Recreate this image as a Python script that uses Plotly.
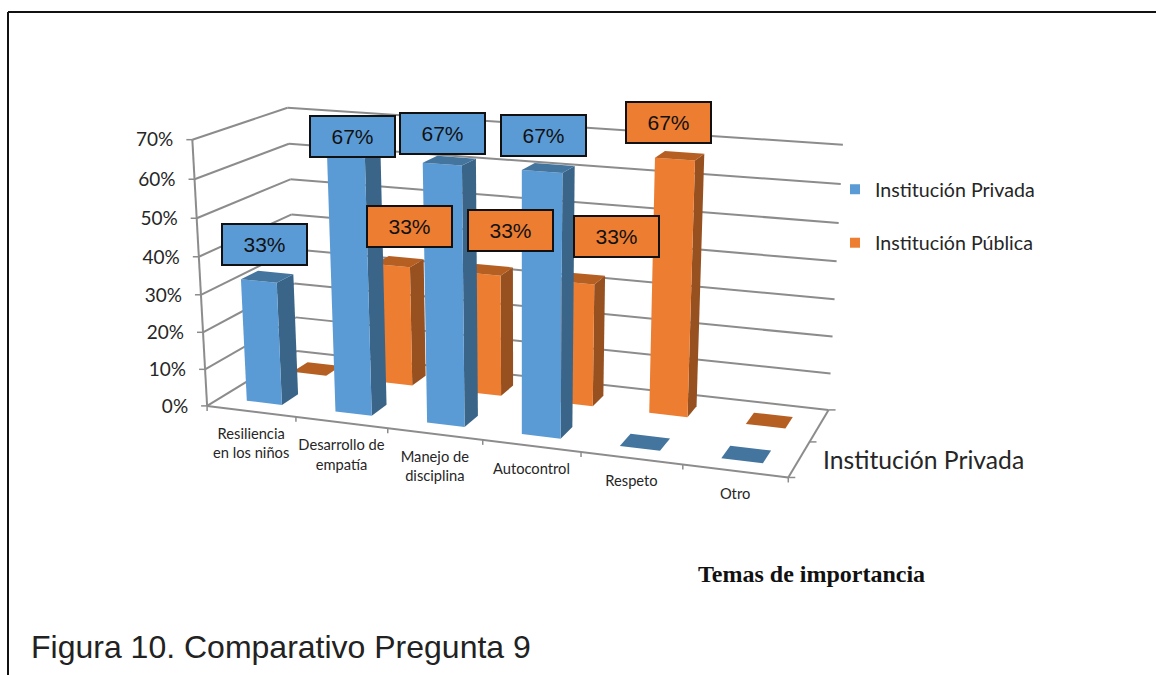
import numpy as np
import plotly.graph_objects as go

# ---------- data ----------
categories = ["Resiliencia<br>en los niños", "Desarrollo de<br>empatía", "Manejo de<br>disciplina",
              "Autocontrol", "Respeto", "Otro"]
privada = [33, 67, 67, 67, 0, 0]
publica = [0, 33, 33, 33, 67, 0]
y_ticks = [0, 10, 20, 30, 40, 50, 60, 70]
series_names = ["Institución Privada", "Institución Pública"]
depth_label = "Institución Privada"
axis_title = "Temas de importancia"
caption = "Figura 10. Comparativo Pregunta 9"

# ---------- view: maps (category pos, depth pos, value) onto the page ----------
view_world = [(0, 0, 0), (6, 0, 0), (6, 1, 0), (0, 1, 0), (0, 0, 70), (6, 0, 70), (6, 1, 70), (0, 1, 70)]
view_page = [(206, 405), (789, 477), (828, 410), (298, 352), (193, 138), (802, 188), (843, 142), (287, 109)]


def fit_view(world, page):
    rows, rhs = [], []
    for (a, b, c), (x, y) in zip(world, page):
        rows.append([a, b, c, 1, 0, 0, 0, 0, -x * a, -x * b, -x * c])
        rows.append([0, 0, 0, 0, a, b, c, 1, -y * a, -y * b, -y * c])
        rhs += [x, y]
    p = np.linalg.lstsq(np.array(rows, float), np.array(rhs, float), rcond=None)[0]
    return np.append(p, 1.0).reshape(3, 4)


P = fit_view(view_world, view_page)


def proj(u, v, z):
    q = P @ np.array([u, v, z, 1.0])
    return q[0] / q[2], q[1] / q[2]


GRID = "#8c8c8c"
BLUE = dict(front="#5B9BD5", side="#3A6589", top="#44759F")
ORANGE = dict(front="#ED7D31", side="#97501F", top="#B65F22")
BAR_U = 0.4
BAR_D = 0.18
V_FRONT = {"priv": 0.14, "pub": 0.65}

fig = go.Figure()


def seg(a, b, width=2, color=GRID):
    pa, pb = proj(*a), proj(*b)
    fig.add_trace(go.Scatter(x=[pa[0], pb[0]], y=[pa[1], pb[1]], mode="lines",
                             line=dict(color=color, width=width), hoverinfo="skip", showlegend=False))


def tick(a, dx, dy):
    pa = proj(*a)
    fig.add_trace(go.Scatter(x=[pa[0], pa[0] + dx], y=[pa[1], pa[1] + dy], mode="lines",
                             line=dict(color=GRID, width=1.5), hoverinfo="skip", showlegend=False))


def face(corners, color, name):
    pts = [proj(*c) for c in corners]
    pts.append(pts[0])
    fig.add_trace(go.Scatter(x=[p[0] for p in pts], y=[p[1] for p in pts], mode="lines", fill="toself",
                             fillcolor=color, line=dict(width=0), name=name, hoverinfo="name", showlegend=False))


def bar(i, value, v0, col, name):
    u0 = i + (1 - BAR_U) / 2
    u1 = u0 + BAR_U
    v1 = v0 + BAR_D
    face([(u1, v0, 0), (u1, v1, 0), (u1, v1, value), (u1, v0, value)], col["side"], name)
    face([(u0, v0, 0), (u1, v0, 0), (u1, v0, value), (u0, v0, value)], col["front"], name)
    face([(u0, v0, value), (u1, v0, value), (u1, v1, value), (u0, v1, value)], col["top"], name)


# walls and floor
for t in y_ticks:
    seg((0, 0, t), (0, 1, t))
    seg((0, 1, t), (6, 1, t))
    tick((0, 0, t), -6, 0)
seg((0, 0, 0), (0, 0, 70))
seg((0, 0, 0), (6, 0, 0))
seg((6, 0, 0), (6, 1, 0))
for i in range(len(categories) + 1):
    tick((i, 0, 0), 0, 5)
for v in (0, 0.5, 1):
    tick((6, v, 0), 7, 0)

# bars: back row first, left to right
for i, val in enumerate(publica):
    bar(i, val, V_FRONT["pub"], ORANGE, series_names[1])
for i, val in enumerate(privada):
    bar(i, val, V_FRONT["priv"], BLUE, series_names[0])

# legend entries
fig.add_trace(go.Scatter(x=[None], y=[None], mode="markers", name=series_names[0], legendgroup="a",
                         marker=dict(symbol="square", size=10, color=BLUE["front"])))
fig.add_trace(go.Scatter(x=[None], y=[None], mode="markers", name=series_names[1], legendgroup="b",
                         marker=dict(symbol="square", size=10, color=ORANGE["front"])))

# value axis labels
pts = [proj(0, 0, t) for t in y_ticks]
fig.add_trace(go.Scatter(x=[p[0] - 19 for p in pts], y=[p[1] + 2 for p in pts], mode="text",
                         text=[f"{t}%" for t in y_ticks], textposition="middle left",
                         textfont=dict(family="Lato", size=19, color="#262626"),
                         hoverinfo="skip", showlegend=False))
# category labels
pts = [proj(i + 0.5, 0, 0) for i in range(len(categories))]
fig.add_trace(go.Scatter(x=[p[0] for p in pts], y=[p[1] + 17 for p in pts], mode="text",
                         text=categories, textposition="bottom center",
                         textfont=dict(family="Lato", size=14.7, color="#262626"),
                         hoverinfo="skip", showlegend=False))

# data labels (boxes moved by hand in the original): box centre on page
label_centres = [(264, 244), (352, 136), (442, 133), (543, 135), (409, 226), (510, 230), (616, 236.5), (668, 122)]
label_values = [privada[0], privada[1], privada[2], privada[3], publica[1], publica[2], publica[3], publica[4]]
label_colors = [BLUE["front"]] * 4 + [ORANGE["front"]] * 4
for (cx, cy), val, colr in zip(label_centres, label_values, label_colors):
    fig.add_annotation(x=cx, y=cy, xref="x", yref="y", text=f"{val}%", showarrow=False,
                       width=83, height=39, bgcolor=colr, bordercolor="#111111", borderwidth=2, borderpad=0,
                       font=dict(family="Liberation Sans", size=21, color="#111111"), align="center", valign="middle")

fig.add_annotation(x=821, y=459, xref="x", yref="y", text=depth_label, showarrow=False, xanchor="left",
                   font=dict(family="Lato", size=24.7, color="#262626"))
fig.add_annotation(x=811, y=574, xref="x", yref="y", text=f"<b>{axis_title}</b>", showarrow=False,
                   font=dict(family="Liberation Serif", size=24, color="#111111"))
fig.add_annotation(x=29, y=647, xref="x", yref="y", text=caption, showarrow=False, xanchor="left",
                   font=dict(family="Liberation Sans", size=32, color="#222222"))

# page frame
fig.add_shape(type="line", x0=8, x1=8, y0=12, y1=675, xref="x", yref="y", line=dict(color="#111111", width=2))
fig.add_shape(type="line", x0=8, x1=1156, y0=12, y1=12, xref="x", yref="y", line=dict(color="#111111", width=2))

fig.update_layout(
    width=1156, height=675, autosize=False, margin=dict(l=0, r=0, t=0, b=0),
    paper_bgcolor="white", plot_bgcolor="white",
    xaxis=dict(range=[0, 1156], visible=False, fixedrange=True),
    yaxis=dict(range=[675, 0], visible=False, fixedrange=True),
    legend=dict(x=835 / 1156, y=1 - 170 / 675, xanchor="left", yanchor="top", tracegroupgap=25,
                bgcolor="rgba(0,0,0,0)", font=dict(family="Lato", size=19.6, color="#262626")),
)
fig.write_html("out.html", config={"displayModeBar": False},
               post_script="document.body.style.margin='0';document.documentElement.style.overflow='hidden';")
